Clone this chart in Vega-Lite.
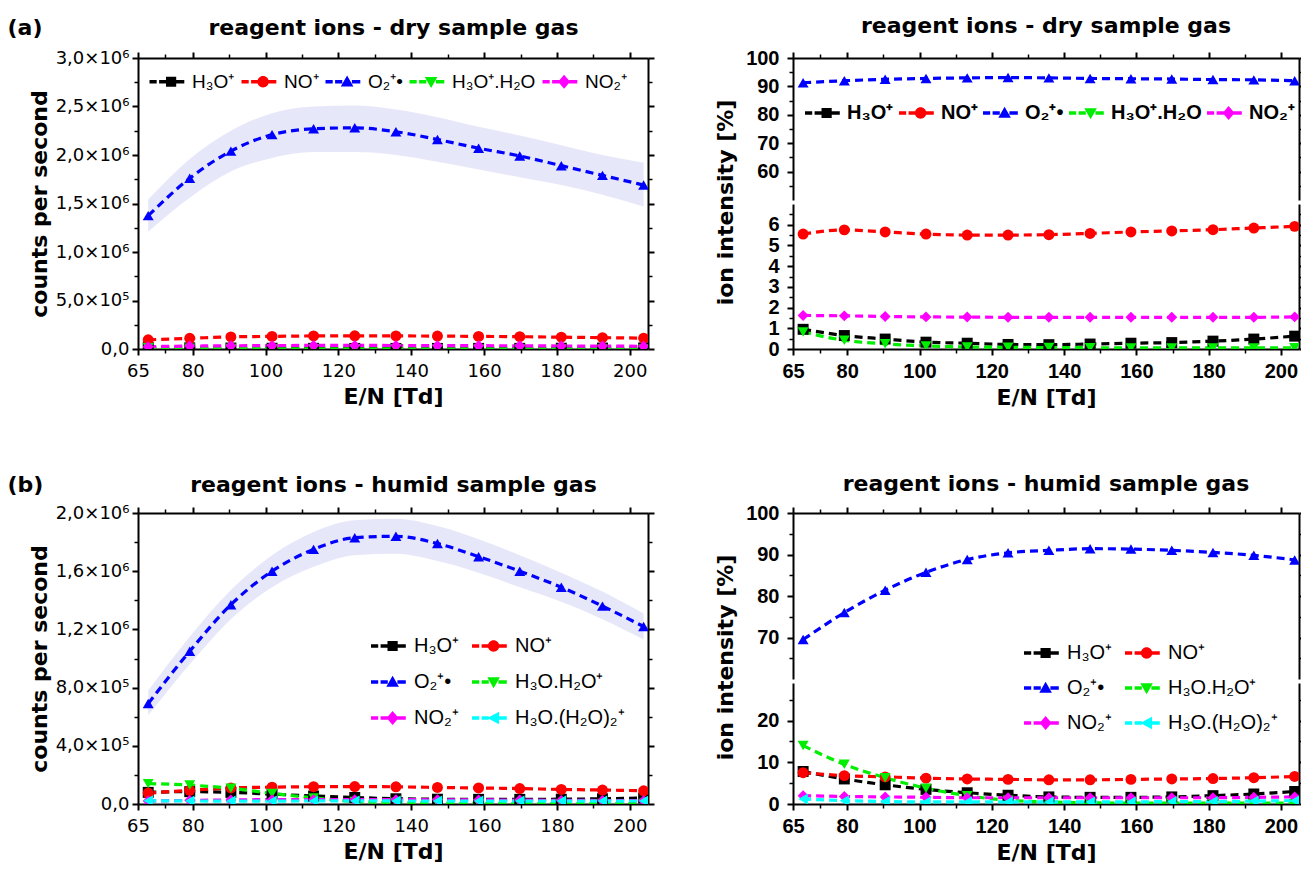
{
"$schema": "https://vega.github.io/schema/vega-lite/v6.json",
"autosize": {"type": "none"},
"padding": {"left": 138, "top": 58, "right": 1163, "bottom": 818},
"background": "white",
"params": [
 {"name": "labD", "value": {"h3o": "H₃O⁺", "no": "NO⁺", "o2": "O₂⁺•", "hyd": "H₃O⁺.H₂O", "no2": "NO₂⁺"}},
 {"name": "labH", "value": {"h3o": "H₃O⁺", "no": "NO⁺", "o2": "O₂⁺•", "hyd": "H₃O.H₂O⁺", "no2": "NO₂⁺", "hyd2": "H₃O.(H₂O)₂⁺"}}
],
"datasets": {
 "db": [
  {"EN": 67.8, "lo": 1210000, "hi": 1540000}, {"EN": 79.2, "lo": 1560000, "hi": 1960000}, {"EN": 90.5, "lo": 1830000, "hi": 2250000},
  {"EN": 101.8, "lo": 1970000, "hi": 2430000}, {"EN": 113.2, "lo": 2030000, "hi": 2500000}, {"EN": 124.5, "lo": 2030000, "hi": 2510000},
  {"EN": 135.8, "lo": 2000000, "hi": 2470000}, {"EN": 147.2, "lo": 1930000, "hi": 2390000}, {"EN": 158.5, "lo": 1850000, "hi": 2290000},
  {"EN": 169.8, "lo": 1770000, "hi": 2200000}, {"EN": 181.2, "lo": 1690000, "hi": 2100000}, {"EN": 192.5, "lo": 1590000, "hi": 2000000},
  {"EN": 203.8, "lo": 1470000, "hi": 1920000}],
 "hb": [
  {"EN": 67.8, "lo": 610000, "hi": 780000}, {"EN": 79.2, "lo": 960000, "hi": 1150000}, {"EN": 90.5, "lo": 1270000, "hi": 1470000},
  {"EN": 101.8, "lo": 1490000, "hi": 1710000}, {"EN": 113.2, "lo": 1630000, "hi": 1870000}, {"EN": 124.5, "lo": 1710000, "hi": 1950000},
  {"EN": 135.8, "lo": 1720000, "hi": 1960000}, {"EN": 147.2, "lo": 1670000, "hi": 1910000}, {"EN": 158.5, "lo": 1590000, "hi": 1820000},
  {"EN": 169.8, "lo": 1490000, "hi": 1710000}, {"EN": 181.2, "lo": 1390000, "hi": 1590000}, {"EN": 192.5, "lo": 1270000, "hi": 1460000},
  {"EN": 203.8, "lo": 1130000, "hi": 1310000}],
 "dc": [
  {"EN": 67.8, "ion": "h3o", "v": 15000}, {"EN": 79.2, "ion": "h3o", "v": 12000}, {"EN": 90.5, "ion": "h3o", "v": 10000}, {"EN": 101.8, "ion": "h3o", "v": 8000}, {"EN": 113.2, "ion": "h3o", "v": 7000}, {"EN": 124.5, "ion": "h3o", "v": 6000}, {"EN": 135.8, "ion": "h3o", "v": 6000}, {"EN": 147.2, "ion": "h3o", "v": 6000}, {"EN": 158.5, "ion": "h3o", "v": 6500}, {"EN": 169.8, "ion": "h3o", "v": 7000}, {"EN": 181.2, "ion": "h3o", "v": 8000}, {"EN": 192.5, "ion": "h3o", "v": 9500}, {"EN": 203.8, "ion": "h3o", "v": 11000},
  {"EN": 67.8, "ion": "no", "v": 95000}, {"EN": 79.2, "ion": "no", "v": 110000}, {"EN": 90.5, "ion": "no", "v": 125000}, {"EN": 101.8, "ion": "no", "v": 130000}, {"EN": 113.2, "ion": "no", "v": 135000}, {"EN": 124.5, "ion": "no", "v": 136000}, {"EN": 135.8, "ion": "no", "v": 135000}, {"EN": 147.2, "ion": "no", "v": 133000}, {"EN": 158.5, "ion": "no", "v": 130000}, {"EN": 169.8, "ion": "no", "v": 127000}, {"EN": 181.2, "ion": "no", "v": 122000}, {"EN": 192.5, "ion": "no", "v": 117000}, {"EN": 203.8, "ion": "no", "v": 112000},
  {"EN": 67.8, "ion": "o2", "v": 1375000}, {"EN": 79.2, "ion": "o2", "v": 1760000}, {"EN": 90.5, "ion": "o2", "v": 2040000}, {"EN": 101.8, "ion": "o2", "v": 2210000}, {"EN": 113.2, "ion": "o2", "v": 2270000}, {"EN": 124.5, "ion": "o2", "v": 2280000}, {"EN": 135.8, "ion": "o2", "v": 2240000}, {"EN": 147.2, "ion": "o2", "v": 2160000}, {"EN": 158.5, "ion": "o2", "v": 2070000}, {"EN": 169.8, "ion": "o2", "v": 1990000}, {"EN": 181.2, "ion": "o2", "v": 1890000}, {"EN": 192.5, "ion": "o2", "v": 1790000}, {"EN": 203.8, "ion": "o2", "v": 1690000},
  {"EN": 67.8, "ion": "hyd", "v": 12000}, {"EN": 79.2, "ion": "hyd", "v": 8000}, {"EN": 90.5, "ion": "hyd", "v": 5000}, {"EN": 101.8, "ion": "hyd", "v": 3000}, {"EN": 113.2, "ion": "hyd", "v": 2000}, {"EN": 124.5, "ion": "hyd", "v": 2000}, {"EN": 135.8, "ion": "hyd", "v": 1500}, {"EN": 147.2, "ion": "hyd", "v": 1300}, {"EN": 158.5, "ion": "hyd", "v": 1100}, {"EN": 169.8, "ion": "hyd", "v": 1000}, {"EN": 181.2, "ion": "hyd", "v": 900}, {"EN": 192.5, "ion": "hyd", "v": 800}, {"EN": 203.8, "ion": "hyd", "v": 900},
  {"EN": 67.8, "ion": "no2", "v": 24000}, {"EN": 79.2, "ion": "no2", "v": 30000}, {"EN": 90.5, "ion": "no2", "v": 33000}, {"EN": 101.8, "ion": "no2", "v": 35000}, {"EN": 113.2, "ion": "no2", "v": 37000}, {"EN": 124.5, "ion": "no2", "v": 37000}, {"EN": 135.8, "ion": "no2", "v": 36000}, {"EN": 147.2, "ion": "no2", "v": 35000}, {"EN": 158.5, "ion": "no2", "v": 34000}, {"EN": 169.8, "ion": "no2", "v": 33000}, {"EN": 181.2, "ion": "no2", "v": 31000}, {"EN": 192.5, "ion": "no2", "v": 30000}, {"EN": 203.8, "ion": "no2", "v": 28000}],
 "dp": [
  {"EN": 67.8, "ion": "h3o", "v": 0.95}, {"EN": 79.2, "ion": "h3o", "v": 0.65}, {"EN": 90.5, "ion": "h3o", "v": 0.48}, {"EN": 101.8, "ion": "h3o", "v": 0.33}, {"EN": 113.2, "ion": "h3o", "v": 0.28}, {"EN": 124.5, "ion": "h3o", "v": 0.22}, {"EN": 135.8, "ion": "h3o", "v": 0.21}, {"EN": 147.2, "ion": "h3o", "v": 0.24}, {"EN": 158.5, "ion": "h3o", "v": 0.28}, {"EN": 169.8, "ion": "h3o", "v": 0.31}, {"EN": 181.2, "ion": "h3o", "v": 0.38}, {"EN": 192.5, "ion": "h3o", "v": 0.48}, {"EN": 203.8, "ion": "h3o", "v": 0.62},
  {"EN": 67.8, "ion": "no", "v": 5.55}, {"EN": 79.2, "ion": "no", "v": 5.75}, {"EN": 90.5, "ion": "no", "v": 5.65}, {"EN": 101.8, "ion": "no", "v": 5.55}, {"EN": 113.2, "ion": "no", "v": 5.5}, {"EN": 124.5, "ion": "no", "v": 5.5}, {"EN": 135.8, "ion": "no", "v": 5.52}, {"EN": 147.2, "ion": "no", "v": 5.58}, {"EN": 158.5, "ion": "no", "v": 5.65}, {"EN": 169.8, "ion": "no", "v": 5.7}, {"EN": 181.2, "ion": "no", "v": 5.76}, {"EN": 192.5, "ion": "no", "v": 5.84}, {"EN": 203.8, "ion": "no", "v": 5.92},
  {"EN": 67.8, "ion": "o2", "v": 91.3}, {"EN": 79.2, "ion": "o2", "v": 92.0}, {"EN": 90.5, "ion": "o2", "v": 92.5}, {"EN": 101.8, "ion": "o2", "v": 92.8}, {"EN": 113.2, "ion": "o2", "v": 93.0}, {"EN": 124.5, "ion": "o2", "v": 93.1}, {"EN": 135.8, "ion": "o2", "v": 93.0}, {"EN": 147.2, "ion": "o2", "v": 92.8}, {"EN": 158.5, "ion": "o2", "v": 92.7}, {"EN": 169.8, "ion": "o2", "v": 92.6}, {"EN": 181.2, "ion": "o2", "v": 92.4}, {"EN": 192.5, "ion": "o2", "v": 92.3}, {"EN": 203.8, "ion": "o2", "v": 92.0},
  {"EN": 67.8, "ion": "hyd", "v": 0.82}, {"EN": 79.2, "ion": "hyd", "v": 0.42}, {"EN": 90.5, "ion": "hyd", "v": 0.25}, {"EN": 101.8, "ion": "hyd", "v": 0.15}, {"EN": 113.2, "ion": "hyd", "v": 0.1}, {"EN": 124.5, "ion": "hyd", "v": 0.08}, {"EN": 135.8, "ion": "hyd", "v": 0.07}, {"EN": 147.2, "ion": "hyd", "v": 0.06}, {"EN": 158.5, "ion": "hyd", "v": 0.05}, {"EN": 169.8, "ion": "hyd", "v": 0.05}, {"EN": 181.2, "ion": "hyd", "v": 0.05}, {"EN": 192.5, "ion": "hyd", "v": 0.05}, {"EN": 203.8, "ion": "hyd", "v": 0.06},
  {"EN": 67.8, "ion": "no2", "v": 1.62}, {"EN": 79.2, "ion": "no2", "v": 1.6}, {"EN": 90.5, "ion": "no2", "v": 1.57}, {"EN": 101.8, "ion": "no2", "v": 1.55}, {"EN": 113.2, "ion": "no2", "v": 1.54}, {"EN": 124.5, "ion": "no2", "v": 1.53}, {"EN": 135.8, "ion": "no2", "v": 1.53}, {"EN": 147.2, "ion": "no2", "v": 1.53}, {"EN": 158.5, "ion": "no2", "v": 1.53}, {"EN": 169.8, "ion": "no2", "v": 1.53}, {"EN": 181.2, "ion": "no2", "v": 1.53}, {"EN": 192.5, "ion": "no2", "v": 1.53}, {"EN": 203.8, "ion": "no2", "v": 1.55}],
 "hc": [
  {"EN": 67.8, "ion": "h3o", "v": 80000}, {"EN": 79.2, "ion": "h3o", "v": 85000}, {"EN": 90.5, "ion": "h3o", "v": 80000}, {"EN": 101.8, "ion": "h3o", "v": 68000}, {"EN": 113.2, "ion": "h3o", "v": 55000}, {"EN": 124.5, "ion": "h3o", "v": 45000}, {"EN": 135.8, "ion": "h3o", "v": 36000}, {"EN": 147.2, "ion": "h3o", "v": 33000}, {"EN": 158.5, "ion": "h3o", "v": 32000}, {"EN": 169.8, "ion": "h3o", "v": 32000}, {"EN": 181.2, "ion": "h3o", "v": 33000}, {"EN": 192.5, "ion": "h3o", "v": 36000}, {"EN": 203.8, "ion": "h3o", "v": 41000},
  {"EN": 67.8, "ion": "no", "v": 75000}, {"EN": 79.2, "ion": "no", "v": 94000}, {"EN": 90.5, "ion": "no", "v": 110000}, {"EN": 101.8, "ion": "no", "v": 116000}, {"EN": 113.2, "ion": "no", "v": 119000}, {"EN": 124.5, "ion": "no", "v": 120000}, {"EN": 135.8, "ion": "no", "v": 118000}, {"EN": 147.2, "ion": "no", "v": 114000}, {"EN": 158.5, "ion": "no", "v": 110000}, {"EN": 169.8, "ion": "no", "v": 106000}, {"EN": 181.2, "ion": "no", "v": 100000}, {"EN": 192.5, "ion": "no", "v": 96000}, {"EN": 203.8, "ion": "no", "v": 91000},
  {"EN": 67.8, "ion": "o2", "v": 690000}, {"EN": 79.2, "ion": "o2", "v": 1050000}, {"EN": 90.5, "ion": "o2", "v": 1370000}, {"EN": 101.8, "ion": "o2", "v": 1600000}, {"EN": 113.2, "ion": "o2", "v": 1750000}, {"EN": 124.5, "ion": "o2", "v": 1830000}, {"EN": 135.8, "ion": "o2", "v": 1840000}, {"EN": 147.2, "ion": "o2", "v": 1790000}, {"EN": 158.5, "ion": "o2", "v": 1700000}, {"EN": 169.8, "ion": "o2", "v": 1600000}, {"EN": 181.2, "ion": "o2", "v": 1490000}, {"EN": 192.5, "ion": "o2", "v": 1360000}, {"EN": 203.8, "ion": "o2", "v": 1220000},
  {"EN": 67.8, "ion": "hyd", "v": 140000}, {"EN": 79.2, "ion": "hyd", "v": 130000}, {"EN": 90.5, "ion": "hyd", "v": 108000}, {"EN": 101.8, "ion": "hyd", "v": 73000}, {"EN": 113.2, "ion": "hyd", "v": 42000}, {"EN": 124.5, "ion": "hyd", "v": 18000}, {"EN": 135.8, "ion": "hyd", "v": 10000}, {"EN": 147.2, "ion": "hyd", "v": 6000}, {"EN": 158.5, "ion": "hyd", "v": 4000}, {"EN": 169.8, "ion": "hyd", "v": 3500}, {"EN": 181.2, "ion": "hyd", "v": 3300}, {"EN": 192.5, "ion": "hyd", "v": 3000}, {"EN": 203.8, "ion": "hyd", "v": 2800},
  {"EN": 67.8, "ion": "no2", "v": 20000}, {"EN": 79.2, "ion": "no2", "v": 25000}, {"EN": 90.5, "ion": "no2", "v": 28000}, {"EN": 101.8, "ion": "no2", "v": 30000}, {"EN": 113.2, "ion": "no2", "v": 30000}, {"EN": 124.5, "ion": "no2", "v": 30000}, {"EN": 135.8, "ion": "no2", "v": 30000}, {"EN": 147.2, "ion": "no2", "v": 29000}, {"EN": 158.5, "ion": "no2", "v": 28000}, {"EN": 169.8, "ion": "no2", "v": 27000}, {"EN": 181.2, "ion": "no2", "v": 25000}, {"EN": 192.5, "ion": "no2", "v": 24000}, {"EN": 203.8, "ion": "no2", "v": 23000},
  {"EN": 67.8, "ion": "hyd2", "v": 22000}, {"EN": 79.2, "ion": "hyd2", "v": 21000}, {"EN": 90.5, "ion": "hyd2", "v": 20000}, {"EN": 101.8, "ion": "hyd2", "v": 20000}, {"EN": 113.2, "ion": "hyd2", "v": 21000}, {"EN": 124.5, "ion": "hyd2", "v": 21000}, {"EN": 135.8, "ion": "hyd2", "v": 21000}, {"EN": 147.2, "ion": "hyd2", "v": 20000}, {"EN": 158.5, "ion": "hyd2", "v": 20000}, {"EN": 169.8, "ion": "hyd2", "v": 20000}, {"EN": 181.2, "ion": "hyd2", "v": 20000}, {"EN": 192.5, "ion": "hyd2", "v": 20000}, {"EN": 203.8, "ion": "hyd2", "v": 21000}],
 "hp": [
  {"EN": 67.8, "ion": "h3o", "v": 7.8}, {"EN": 79.2, "ion": "h3o", "v": 6.0}, {"EN": 90.5, "ion": "h3o", "v": 4.6}, {"EN": 101.8, "ion": "h3o", "v": 3.5}, {"EN": 113.2, "ion": "h3o", "v": 2.7}, {"EN": 124.5, "ion": "h3o", "v": 2.1}, {"EN": 135.8, "ion": "h3o", "v": 1.7}, {"EN": 147.2, "ion": "h3o", "v": 1.6}, {"EN": 158.5, "ion": "h3o", "v": 1.6}, {"EN": 169.8, "ion": "h3o", "v": 1.7}, {"EN": 181.2, "ion": "h3o", "v": 2.0}, {"EN": 192.5, "ion": "h3o", "v": 2.4}, {"EN": 203.8, "ion": "h3o", "v": 3.0},
  {"EN": 67.8, "ion": "no", "v": 7.5}, {"EN": 79.2, "ion": "no", "v": 6.8}, {"EN": 90.5, "ion": "no", "v": 6.5}, {"EN": 101.8, "ion": "no", "v": 6.2}, {"EN": 113.2, "ion": "no", "v": 6.0}, {"EN": 124.5, "ion": "no", "v": 5.9}, {"EN": 135.8, "ion": "no", "v": 5.8}, {"EN": 147.2, "ion": "no", "v": 5.8}, {"EN": 158.5, "ion": "no", "v": 5.9}, {"EN": 169.8, "ion": "no", "v": 6.0}, {"EN": 181.2, "ion": "no", "v": 6.1}, {"EN": 192.5, "ion": "no", "v": 6.3}, {"EN": 203.8, "ion": "no", "v": 6.6},
  {"EN": 67.8, "ion": "o2", "v": 69.5}, {"EN": 79.2, "ion": "o2", "v": 76.0}, {"EN": 90.5, "ion": "o2", "v": 81.4}, {"EN": 101.8, "ion": "o2", "v": 85.7}, {"EN": 113.2, "ion": "o2", "v": 88.8}, {"EN": 124.5, "ion": "o2", "v": 90.4}, {"EN": 135.8, "ion": "o2", "v": 91.0}, {"EN": 147.2, "ion": "o2", "v": 91.4}, {"EN": 158.5, "ion": "o2", "v": 91.3}, {"EN": 169.8, "ion": "o2", "v": 91.0}, {"EN": 181.2, "ion": "o2", "v": 90.5}, {"EN": 192.5, "ion": "o2", "v": 89.8}, {"EN": 203.8, "ion": "o2", "v": 88.7},
  {"EN": 67.8, "ion": "hyd", "v": 14.0}, {"EN": 79.2, "ion": "hyd", "v": 9.5}, {"EN": 90.5, "ion": "hyd", "v": 6.3}, {"EN": 101.8, "ion": "hyd", "v": 3.8}, {"EN": 113.2, "ion": "hyd", "v": 2.0}, {"EN": 124.5, "ion": "hyd", "v": 0.9}, {"EN": 135.8, "ion": "hyd", "v": 0.5}, {"EN": 147.2, "ion": "hyd", "v": 0.3}, {"EN": 158.5, "ion": "hyd", "v": 0.2}, {"EN": 169.8, "ion": "hyd", "v": 0.2}, {"EN": 181.2, "ion": "hyd", "v": 0.2}, {"EN": 192.5, "ion": "hyd", "v": 0.2}, {"EN": 203.8, "ion": "hyd", "v": 0.2},
  {"EN": 67.8, "ion": "no2", "v": 2.0}, {"EN": 79.2, "ion": "no2", "v": 1.8}, {"EN": 90.5, "ion": "no2", "v": 1.7}, {"EN": 101.8, "ion": "no2", "v": 1.6}, {"EN": 113.2, "ion": "no2", "v": 1.5}, {"EN": 124.5, "ion": "no2", "v": 1.5}, {"EN": 135.8, "ion": "no2", "v": 1.5}, {"EN": 147.2, "ion": "no2", "v": 1.5}, {"EN": 158.5, "ion": "no2", "v": 1.5}, {"EN": 169.8, "ion": "no2", "v": 1.5}, {"EN": 181.2, "ion": "no2", "v": 1.5}, {"EN": 192.5, "ion": "no2", "v": 1.6}, {"EN": 203.8, "ion": "no2", "v": 1.7},
  {"EN": 67.8, "ion": "hyd2", "v": 1.2}, {"EN": 79.2, "ion": "hyd2", "v": 0.8}, {"EN": 90.5, "ion": "hyd2", "v": 0.6}, {"EN": 101.8, "ion": "hyd2", "v": 0.5}, {"EN": 113.2, "ion": "hyd2", "v": 0.5}, {"EN": 124.5, "ion": "hyd2", "v": 0.5}, {"EN": 135.8, "ion": "hyd2", "v": 0.5}, {"EN": 147.2, "ion": "hyd2", "v": 0.5}, {"EN": 158.5, "ion": "hyd2", "v": 0.5}, {"EN": 169.8, "ion": "hyd2", "v": 0.6}, {"EN": 181.2, "ion": "hyd2", "v": 0.6}, {"EN": 192.5, "ion": "hyd2", "v": 0.7}, {"EN": 203.8, "ion": "hyd2", "v": 0.8}]
},
"config": {
 "view": {"stroke": null},
 "axis": {"grid": false, "domainColor": "black", "tickColor": "black", "labelColor": "black", "titleColor": "black", "domainWidth": 2, "tickWidth": 2, "labelOverlap": false, "labelFlush": false},
 "title": {"color": "black"},
 "legend": {"labelColor": "black"}
},
"bounds": "flush",
"columns": 2,
"spacing": {"row": 164, "column": 145},
"resolve": {"scale": {"color": "independent", "shape": "independent", "fill": "independent"}},
"concat": [
 {
  "width": 510, "height": 291,
  "resolve": {"axis": {"x": "independent", "y": "independent"}, "scale": {"shape": "independent", "fill": "independent"}},
  "layer": [
   {"data": {"name": "db"}, "mark": {"type": "area", "color": "#e4e4fa", "opacity": 0.9, "interpolate": "monotone", "clip": true},
    "encoding": {
     "x": {"field": "EN", "type": "quantitative", "scale": {"domain": [65, 205], "nice": false, "zero": false},
           "axis": {"orient": "bottom", "values": [65, 80, 100, 120, 140, 160, 180, 200], "title": "E/N [Td]", "labelFont": "DejaVu Sans", "labelFontSize": 18, "titleFont": "DejaVu Sans", "titleFontSize": 22, "titleFontWeight": "bold", "tickSize": 6, "labelPadding": 7, "titlePadding": 6}},
     "y": {"field": "lo", "type": "quantitative", "scale": {"domain": [0, 3000000], "nice": false, "zero": false},
           "axis": {"orient": "left", "values": [0, 500000, 1000000, 1500000, 2000000, 2500000, 3000000], "title": "counts per second", "labelExpr": "datum.value == 0 ? '0,0' : (datum.value < 1000000 ? replace(format(datum.value/100000, '.1f'), '.', ',') + '×10⁵' : replace(format(datum.value/1000000, '.1f'), '.', ',') + '×10⁶')", "labelFont": "DejaVu Sans", "labelFontSize": 18, "titleFont": "DejaVu Sans", "titleFontSize": 22, "titleFontWeight": "bold", "tickSize": 6, "labelPadding": 3, "titlePadding": 4}},
     "y2": {"field": "hi"}}},
   {"data": {"name": "dc"}, "mark": {"type": "line", "strokeDash": [8, 5], "strokeWidth": 3.2, "interpolate": "monotone", "clip": true},
    "encoding": {
     "x": {"field": "EN", "type": "quantitative", "axis": {"orient": "top", "values": [65, 80, 100, 120, 140, 160, 180, 200], "labels": false, "tickSize": 6, "title": "reagent ions - dry sample gas", "titleX": 255, "titleY": -31, "titleAngle": 0, "titleAlign": "center", "titleBaseline": "middle", "titleFont": "DejaVu Sans", "titleFontSize": 22, "titleFontWeight": "bold"}},
     "y": {"field": "v", "type": "quantitative", "axis": {"orient": "right", "values": [0, 500000, 1000000, 1500000, 2000000, 2500000, 3000000], "labels": false, "title": null, "tickSize": 6}},
     "color": {"field": "ion", "type": "nominal", "scale": {"domain": ["h3o", "no", "o2", "hyd", "no2"], "range": ["#000000", "#ff0000", "#0000ff", "#00ee00", "#ff00ff"]}, "legend": null}}},
   {"data": {"name": "dc"}, "mark": {"type": "point", "filled": true, "size": 120, "opacity": 1, "clip": true},
    "encoding": {
     "x": {"field": "EN", "type": "quantitative", "axis": {"orient": "bottom", "values": [72.5, 90, 110, 130, 150, 170, 190], "labels": false, "domain": false, "title": null, "tickSize": 4, "tickWidth": 1.5}},
     "y": {"field": "v", "type": "quantitative", "axis": {"orient": "left", "values": [250000, 750000, 1250000, 1750000, 2250000, 2750000], "labels": false, "domain": false, "title": null, "tickSize": 4, "tickWidth": 1.5}},
     "color": {"field": "ion", "type": "nominal", "scale": {"domain": ["h3o", "no", "o2", "hyd", "no2"], "range": ["#000000", "#ff0000", "#0000ff", "#00ee00", "#ff00ff"]}, "legend": null},
     "shape": {"field": "ion", "type": "nominal", "scale": {"domain": ["h3o", "no", "o2", "hyd", "no2"], "range": ["square", "circle", "triangle-up", "triangle-down", "diamond"]}, "legend": null}}},
   {"data": {"name": "dc"}, "mark": {"type": "point", "filled": true, "opacity": 0, "size": 144},
    "encoding": {
     "x": {"field": "EN", "type": "quantitative", "axis": {"orient": "top", "values": [72.5, 90, 110, 130, 150, 170, 190], "labels": false, "domain": false, "tickSize": 4, "tickWidth": 1.5, "title": "(a)", "titleX": -131, "titleY": -31, "titleAngle": 0, "titleAlign": "left", "titleBaseline": "middle", "titleFont": "DejaVu Sans", "titleFontSize": 22, "titleFontWeight": "bold"}},
     "y": {"field": "v", "type": "quantitative", "axis": {"orient": "right", "values": [250000, 750000, 1250000, 1750000, 2250000, 2750000], "labels": false, "domain": false, "title": null, "tickSize": 4, "tickWidth": 1.5}},
     "fill": {"field": "ion", "type": "nominal", "scale": {"domain": ["h3o", "no", "o2", "hyd", "no2"], "range": ["#000000", "#ff0000", "#0000ff", "#00ee00", "#ff00ff"]},
              "legend": {"orient": "none", "legendX": 8, "legendY": 14, "direction": "horizontal", "columns": 5, "title": null, "labelExpr": "labD[datum.value]", "labelFont": "Liberation Sans", "labelFontSize": 19, "symbolSize": 144, "symbolOpacity": 1, "labelOffset": 27, "columnPadding": 3, "padding": 0}},
     "shape": {"field": "ion", "type": "nominal",
               "scale": {"domain": ["h3o", "no", "o2", "hyd", "no2"], "range": [
                 "M-1,-0.28H0.2V0.28H-1Z M0.6,-0.28H1.8V0.28H0.6Z M3.4,-0.28H4.8V0.28H3.4Z M1.75,-0.85H3.45V0.85H1.75Z",
                 "M-1,-0.28H0.2V0.28H-1Z M0.6,-0.28H1.8V0.28H0.6Z M3.4,-0.28H4.8V0.28H3.4Z M1.65,0A0.95,0.95 0 1,1 3.55,0A0.95,0.95 0 1,1 1.65,0Z",
                 "M-1,-0.28H0.2V0.28H-1Z M0.6,-0.28H1.8V0.28H0.6Z M3.4,-0.28H4.8V0.28H3.4Z M2.6,-1.05L3.65,0.8H1.55Z",
                 "M-1,-0.28H0.2V0.28H-1Z M0.6,-0.28H1.8V0.28H0.6Z M3.4,-0.28H4.8V0.28H3.4Z M2.6,1.05L1.55,-0.8H3.65Z",
                 "M-1,-0.28H0.2V0.28H-1Z M0.6,-0.28H1.8V0.28H0.6Z M3.4,-0.28H4.8V0.28H3.4Z M2.6,-1.15L3.6,0L2.6,1.15L1.6,0Z"]},
               "legend": {"orient": "none", "legendX": 8, "legendY": 14, "direction": "horizontal", "columns": 5, "title": null, "labelExpr": "labD[datum.value]", "labelFont": "Liberation Sans", "labelFontSize": 19, "symbolSize": 144, "symbolOpacity": 1, "labelOffset": 27, "columnPadding": 3, "padding": 0}}}}
  ]
 },
 {
  "bounds": "flush",
  "spacing": 4,
  "resolve": {"scale": {"color": "independent", "shape": "independent", "fill": "independent"}},
  "vconcat": [
   {
    "width": 506, "height": 142,
    "title": {"text": "reagent ions - dry sample gas", "font": "DejaVu Sans", "fontSize": 22, "fontWeight": "bold", "offset": 10},
    "resolve": {"axis": {"x": "independent", "y": "independent"}, "scale": {"shape": "independent", "fill": "independent"}},
    "layer": [
     {"data": {"name": "dp"}, "mark": {"type": "line", "strokeDash": [8, 5], "strokeWidth": 3.2, "interpolate": "monotone", "clip": true},
      "encoding": {
       "x": {"field": "EN", "type": "quantitative", "scale": {"domain": [65, 205], "nice": false, "zero": false}, "axis": {"orient": "top", "values": [65, 80, 100, 120, 140, 160, 180, 200], "labels": false, "title": null, "tickSize": 6}},
       "y": {"field": "v", "type": "quantitative", "scale": {"domain": [50, 100], "nice": false, "zero": false},
             "axis": {"orient": "left", "values": [60, 70, 80, 90, 100], "title": "ion intensity [%]", "titleY": 144, "labelFont": "Liberation Sans", "labelFontWeight": "bold", "labelFontSize": 20, "titleFont": "DejaVu Sans", "titleFontSize": 22, "titleFontWeight": "bold", "tickSize": 6, "labelPadding": 8, "titlePadding": 8}},
       "color": {"field": "ion", "type": "nominal", "scale": {"domain": ["h3o", "no", "o2", "hyd", "no2"], "range": ["#000000", "#ff0000", "#0000ff", "#00ee00", "#ff00ff"]}, "legend": null}}},
     {"data": {"name": "dp"}, "mark": {"type": "point", "filled": true, "size": 120, "opacity": 1, "clip": true},
      "encoding": {
       "x": {"field": "EN", "type": "quantitative", "axis": {"orient": "top", "values": [72.5, 90, 110, 130, 150, 170, 190], "labels": false, "domain": false, "title": null, "tickSize": 4, "tickWidth": 1.5}},
       "y": {"field": "v", "type": "quantitative", "axis": {"orient": "left", "values": [55, 65, 75, 85, 95], "labels": false, "domain": false, "title": null, "tickSize": 4, "tickWidth": 1.5}},
       "color": {"field": "ion", "type": "nominal", "scale": {"domain": ["h3o", "no", "o2", "hyd", "no2"], "range": ["#000000", "#ff0000", "#0000ff", "#00ee00", "#ff00ff"]}, "legend": null},
       "shape": {"field": "ion", "type": "nominal", "scale": {"domain": ["h3o", "no", "o2", "hyd", "no2"], "range": ["square", "circle", "triangle-up", "triangle-down", "diamond"]}, "legend": null}}},
     {"data": {"name": "dp"}, "mark": {"type": "point", "filled": true, "opacity": 0, "size": 144},
      "encoding": {
       "x": {"field": "EN", "type": "quantitative", "axis": null},
       "y": {"field": "v", "type": "quantitative", "axis": {"orient": "right", "values": [60, 70, 80, 90, 100], "labels": false, "title": null, "tickSize": 6}},
       "fill": {"field": "ion", "type": "nominal", "scale": {"domain": ["h3o", "no", "o2", "hyd", "no2"], "range": ["#000000", "#ff0000", "#0000ff", "#00ee00", "#ff00ff"]},
                "legend": {"orient": "none", "legendX": 8, "legendY": 45, "direction": "horizontal", "columns": 5, "title": null, "labelExpr": "labD[datum.value]", "labelFont": "Liberation Sans", "labelFontWeight": "bold", "labelFontSize": 20, "symbolSize": 144, "symbolOpacity": 1, "labelOffset": 26, "columnPadding": 1, "padding": 0}},
       "shape": {"field": "ion", "type": "nominal",
                 "scale": {"domain": ["h3o", "no", "o2", "hyd", "no2"], "range": [
                   "M-1,-0.28H0.2V0.28H-1Z M0.6,-0.28H1.8V0.28H0.6Z M3.4,-0.28H4.8V0.28H3.4Z M1.75,-0.85H3.45V0.85H1.75Z",
                   "M-1,-0.28H0.2V0.28H-1Z M0.6,-0.28H1.8V0.28H0.6Z M3.4,-0.28H4.8V0.28H3.4Z M1.65,0A0.95,0.95 0 1,1 3.55,0A0.95,0.95 0 1,1 1.65,0Z",
                   "M-1,-0.28H0.2V0.28H-1Z M0.6,-0.28H1.8V0.28H0.6Z M3.4,-0.28H4.8V0.28H3.4Z M2.6,-1.05L3.65,0.8H1.55Z",
                   "M-1,-0.28H0.2V0.28H-1Z M0.6,-0.28H1.8V0.28H0.6Z M3.4,-0.28H4.8V0.28H3.4Z M2.6,1.05L1.55,-0.8H3.65Z",
                   "M-1,-0.28H0.2V0.28H-1Z M0.6,-0.28H1.8V0.28H0.6Z M3.4,-0.28H4.8V0.28H3.4Z M2.6,-1.15L3.6,0L2.6,1.15L1.6,0Z"]},
                 "legend": {"orient": "none", "legendX": 8, "legendY": 45, "direction": "horizontal", "columns": 5, "title": null, "labelExpr": "labD[datum.value]", "labelFont": "Liberation Sans", "labelFontWeight": "bold", "labelFontSize": 20, "symbolSize": 144, "symbolOpacity": 1, "labelOffset": 26, "columnPadding": 1, "padding": 0}}}},
     {"data": {"name": "dp"}, "mark": {"type": "point", "opacity": 0},
      "encoding": {
       "x": {"field": "EN", "type": "quantitative", "axis": null},
       "y": {"field": "v", "type": "quantitative", "axis": {"orient": "right", "values": [55, 65, 75, 85, 95], "labels": false, "domain": false, "title": null, "tickSize": 4, "tickWidth": 1.5}}}}
    ]
   },
   {
    "width": 506, "height": 145,
    "resolve": {"axis": {"x": "independent", "y": "independent"}},
    "layer": [
     {"data": {"name": "dp"}, "mark": {"type": "line", "strokeDash": [8, 5], "strokeWidth": 3.2, "interpolate": "monotone", "clip": true},
      "encoding": {
       "x": {"field": "EN", "type": "quantitative", "scale": {"domain": [65, 205], "nice": false, "zero": false},
             "axis": {"orient": "bottom", "values": [65, 80, 100, 120, 140, 160, 180, 200], "title": "E/N [Td]", "labelFont": "Liberation Sans", "labelFontWeight": "bold", "labelFontSize": 20, "titleFont": "DejaVu Sans", "titleFontSize": 22, "titleFontWeight": "bold", "tickSize": 6, "labelPadding": 6, "titlePadding": 6}},
       "y": {"field": "v", "type": "quantitative", "scale": {"domain": [0, 7], "nice": false, "zero": false},
             "axis": {"orient": "left", "values": [0, 1, 2, 3, 4, 5, 6], "title": null, "labelFont": "Liberation Sans", "labelFontWeight": "bold", "labelFontSize": 20, "tickSize": 6, "labelPadding": 8}},
       "color": {"field": "ion", "type": "nominal", "scale": {"domain": ["h3o", "no", "o2", "hyd", "no2"], "range": ["#000000", "#ff0000", "#0000ff", "#00ee00", "#ff00ff"]}, "legend": null}}},
     {"data": {"name": "dp"}, "mark": {"type": "point", "filled": true, "size": 120, "opacity": 1, "clip": true},
      "encoding": {
       "x": {"field": "EN", "type": "quantitative", "axis": {"orient": "bottom", "values": [72.5, 90, 110, 130, 150, 170, 190], "labels": false, "domain": false, "title": null, "tickSize": 4, "tickWidth": 1.5}},
       "y": {"field": "v", "type": "quantitative", "axis": {"orient": "left", "values": [0.5, 1.5, 2.5, 3.5, 4.5, 5.5, 6.5], "labels": false, "domain": false, "title": null, "tickSize": 4, "tickWidth": 1.5}},
       "color": {"field": "ion", "type": "nominal", "scale": {"domain": ["h3o", "no", "o2", "hyd", "no2"], "range": ["#000000", "#ff0000", "#0000ff", "#00ee00", "#ff00ff"]}, "legend": null},
       "shape": {"field": "ion", "type": "nominal", "scale": {"domain": ["h3o", "no", "o2", "hyd", "no2"], "range": ["square", "circle", "triangle-up", "triangle-down", "diamond"]}, "legend": null}}},
     {"data": {"name": "dp"}, "mark": {"type": "point", "opacity": 0},
      "encoding": {
       "x": {"field": "EN", "type": "quantitative", "axis": null},
       "y": {"field": "v", "type": "quantitative", "axis": {"orient": "right", "values": [0, 1, 2, 3, 4, 5, 6], "labels": false, "title": null, "tickSize": 6}}}},
     {"data": {"name": "dp"}, "mark": {"type": "point", "opacity": 0},
      "encoding": {
       "x": {"field": "EN", "type": "quantitative", "axis": null},
       "y": {"field": "v", "type": "quantitative", "axis": {"orient": "right", "values": [0.5, 1.5, 2.5, 3.5, 4.5, 5.5, 6.5], "labels": false, "domain": false, "title": null, "tickSize": 4, "tickWidth": 1.5}}}}
    ]
   }
  ]
 },
 {
  "width": 510, "height": 291,
  "resolve": {"axis": {"x": "independent", "y": "independent"}, "scale": {"shape": "independent", "fill": "independent"}},
  "layer": [
   {"data": {"name": "hb"}, "mark": {"type": "area", "color": "#e4e4fa", "opacity": 0.9, "interpolate": "monotone", "clip": true},
    "encoding": {
     "x": {"field": "EN", "type": "quantitative", "scale": {"domain": [65, 205], "nice": false, "zero": false},
           "axis": {"orient": "bottom", "values": [65, 80, 100, 120, 140, 160, 180, 200], "title": "E/N [Td]", "labelFont": "DejaVu Sans", "labelFontSize": 18, "titleFont": "DejaVu Sans", "titleFontSize": 22, "titleFontWeight": "bold", "tickSize": 6, "labelPadding": 7, "titlePadding": 6}},
     "y": {"field": "lo", "type": "quantitative", "scale": {"domain": [0, 2000000], "nice": false, "zero": false},
           "axis": {"orient": "left", "values": [0, 400000, 800000, 1200000, 1600000, 2000000], "title": "counts per second", "labelExpr": "datum.value == 0 ? '0,0' : (datum.value < 1000000 ? replace(format(datum.value/100000, '.1f'), '.', ',') + '×10⁵' : replace(format(datum.value/1000000, '.1f'), '.', ',') + '×10⁶')", "labelFont": "DejaVu Sans", "labelFontSize": 18, "titleFont": "DejaVu Sans", "titleFontSize": 22, "titleFontWeight": "bold", "tickSize": 6, "labelPadding": 3, "titlePadding": 4}},
     "y2": {"field": "hi"}}},
   {"data": {"name": "hc"}, "mark": {"type": "line", "strokeDash": [8, 5], "strokeWidth": 3.2, "interpolate": "monotone", "clip": true},
    "encoding": {
     "x": {"field": "EN", "type": "quantitative", "axis": {"orient": "top", "values": [65, 80, 100, 120, 140, 160, 180, 200], "labels": false, "tickSize": 6, "title": "reagent ions - humid sample gas", "titleX": 255, "titleY": -29, "titleAngle": 0, "titleAlign": "center", "titleBaseline": "middle", "titleFont": "DejaVu Sans", "titleFontSize": 22, "titleFontWeight": "bold"}},
     "y": {"field": "v", "type": "quantitative", "axis": {"orient": "right", "values": [0, 400000, 800000, 1200000, 1600000, 2000000], "labels": false, "title": null, "tickSize": 6}},
     "color": {"field": "ion", "type": "nominal", "scale": {"domain": ["h3o", "no", "o2", "hyd", "no2", "hyd2"], "range": ["#000000", "#ff0000", "#0000ff", "#00ee00", "#ff00ff", "#00ffff"]}, "legend": null}}},
   {"data": {"name": "hc"}, "mark": {"type": "point", "filled": true, "size": 120, "opacity": 1, "clip": true},
    "encoding": {
     "x": {"field": "EN", "type": "quantitative", "axis": {"orient": "bottom", "values": [72.5, 90, 110, 130, 150, 170, 190], "labels": false, "domain": false, "title": null, "tickSize": 4, "tickWidth": 1.5}},
     "y": {"field": "v", "type": "quantitative", "axis": {"orient": "left", "values": [200000, 600000, 1000000, 1400000, 1800000], "labels": false, "domain": false, "title": null, "tickSize": 4, "tickWidth": 1.5}},
     "color": {"field": "ion", "type": "nominal", "scale": {"domain": ["h3o", "no", "o2", "hyd", "no2", "hyd2"], "range": ["#000000", "#ff0000", "#0000ff", "#00ee00", "#ff00ff", "#00ffff"]}, "legend": null},
     "shape": {"field": "ion", "type": "nominal", "scale": {"domain": ["h3o", "no", "o2", "hyd", "no2", "hyd2"], "range": ["square", "circle", "triangle-up", "triangle-down", "diamond", "triangle-left"]}, "legend": null}}},
   {"data": {"name": "hc"}, "mark": {"type": "point", "filled": true, "opacity": 0, "size": 144},
    "encoding": {
     "x": {"field": "EN", "type": "quantitative", "axis": {"orient": "top", "values": [72.5, 90, 110, 130, 150, 170, 190], "labels": false, "domain": false, "tickSize": 4, "tickWidth": 1.5, "title": "(b)", "titleX": -131, "titleY": -29, "titleAngle": 0, "titleAlign": "left", "titleBaseline": "middle", "titleFont": "DejaVu Sans", "titleFontSize": 22, "titleFontWeight": "bold"}},
     "y": {"field": "v", "type": "quantitative", "axis": {"orient": "right", "values": [200000, 600000, 1000000, 1400000, 1800000], "labels": false, "domain": false, "title": null, "tickSize": 4, "tickWidth": 1.5}},
     "fill": {"field": "ion", "type": "nominal", "scale": {"domain": ["h3o", "no", "o2", "hyd", "no2", "hyd2"], "range": ["#000000", "#ff0000", "#0000ff", "#00ee00", "#ff00ff", "#00ffff"]},
              "legend": {"orient": "none", "legendX": 229, "legendY": 123, "direction": "horizontal", "columns": 2, "title": null, "labelExpr": "labH[datum.value]", "labelFont": "Liberation Sans", "labelFontSize": 20, "symbolSize": 144, "symbolOpacity": 1, "labelOffset": 27, "columnPadding": 8, "rowPadding": 16, "padding": 0}},
     "shape": {"field": "ion", "type": "nominal",
               "scale": {"domain": ["h3o", "no", "o2", "hyd", "no2", "hyd2"], "range": [
                 "M-1,-0.28H0.2V0.28H-1Z M0.6,-0.28H1.8V0.28H0.6Z M3.4,-0.28H4.8V0.28H3.4Z M1.75,-0.85H3.45V0.85H1.75Z",
                 "M-1,-0.28H0.2V0.28H-1Z M0.6,-0.28H1.8V0.28H0.6Z M3.4,-0.28H4.8V0.28H3.4Z M1.65,0A0.95,0.95 0 1,1 3.55,0A0.95,0.95 0 1,1 1.65,0Z",
                 "M-1,-0.28H0.2V0.28H-1Z M0.6,-0.28H1.8V0.28H0.6Z M3.4,-0.28H4.8V0.28H3.4Z M2.6,-1.05L3.65,0.8H1.55Z",
                 "M-1,-0.28H0.2V0.28H-1Z M0.6,-0.28H1.8V0.28H0.6Z M3.4,-0.28H4.8V0.28H3.4Z M2.6,1.05L1.55,-0.8H3.65Z",
                 "M-1,-0.28H0.2V0.28H-1Z M0.6,-0.28H1.8V0.28H0.6Z M3.4,-0.28H4.8V0.28H3.4Z M2.6,-1.15L3.6,0L2.6,1.15L1.6,0Z",
                 "M-1,-0.28H0.2V0.28H-1Z M0.6,-0.28H1.8V0.28H0.6Z M3.4,-0.28H4.8V0.28H3.4Z M1.55,0L3.5,-1.05V1.05Z"]},
               "legend": {"orient": "none", "legendX": 229, "legendY": 123, "direction": "horizontal", "columns": 2, "title": null, "labelExpr": "labH[datum.value]", "labelFont": "Liberation Sans", "labelFontSize": 20, "symbolSize": 144, "symbolOpacity": 1, "labelOffset": 27, "columnPadding": 8, "rowPadding": 16, "padding": 0}}}}
  ]
 },
 {
  "bounds": "flush",
  "spacing": 4,
  "resolve": {"scale": {"color": "independent", "shape": "independent", "fill": "independent"}},
  "vconcat": [
   {
    "width": 506, "height": 166,
    "title": {"text": "reagent ions - humid sample gas", "font": "DejaVu Sans", "fontSize": 22, "fontWeight": "bold", "offset": 7},
    "resolve": {"axis": {"x": "independent", "y": "independent"}, "scale": {"shape": "independent", "fill": "independent"}},
    "layer": [
     {"data": {"name": "hp"}, "mark": {"type": "line", "strokeDash": [8, 5], "strokeWidth": 3.2, "interpolate": "monotone", "clip": true},
      "encoding": {
       "x": {"field": "EN", "type": "quantitative", "scale": {"domain": [65, 205], "nice": false, "zero": false}, "axis": {"orient": "top", "values": [65, 80, 100, 120, 140, 160, 180, 200], "labels": false, "title": null, "tickSize": 6}},
       "y": {"field": "v", "type": "quantitative", "scale": {"domain": [60, 100], "nice": false, "zero": false},
             "axis": {"orient": "left", "values": [70, 80, 90, 100], "title": "ion intensity [%]", "titleY": 144, "labelFont": "Liberation Sans", "labelFontWeight": "bold", "labelFontSize": 20, "titleFont": "DejaVu Sans", "titleFontSize": 22, "titleFontWeight": "bold", "tickSize": 6, "labelPadding": 8, "titlePadding": 8}},
       "color": {"field": "ion", "type": "nominal", "scale": {"domain": ["h3o", "no", "o2", "hyd", "no2", "hyd2"], "range": ["#000000", "#ff0000", "#0000ff", "#00ee00", "#ff00ff", "#00ffff"]}, "legend": null}}},
     {"data": {"name": "hp"}, "mark": {"type": "point", "filled": true, "size": 120, "opacity": 1, "clip": true},
      "encoding": {
       "x": {"field": "EN", "type": "quantitative", "axis": {"orient": "top", "values": [72.5, 90, 110, 130, 150, 170, 190], "labels": false, "domain": false, "title": null, "tickSize": 4, "tickWidth": 1.5}},
       "y": {"field": "v", "type": "quantitative", "axis": {"orient": "left", "values": [65, 75, 85, 95], "labels": false, "domain": false, "title": null, "tickSize": 4, "tickWidth": 1.5}},
       "color": {"field": "ion", "type": "nominal", "scale": {"domain": ["h3o", "no", "o2", "hyd", "no2", "hyd2"], "range": ["#000000", "#ff0000", "#0000ff", "#00ee00", "#ff00ff", "#00ffff"]}, "legend": null},
       "shape": {"field": "ion", "type": "nominal", "scale": {"domain": ["h3o", "no", "o2", "hyd", "no2", "hyd2"], "range": ["square", "circle", "triangle-up", "triangle-down", "diamond", "triangle-left"]}, "legend": null}}},
     {"data": {"name": "hp"}, "mark": {"type": "point", "filled": true, "opacity": 0, "size": 144},
      "encoding": {
       "x": {"field": "EN", "type": "quantitative", "axis": null},
       "y": {"field": "v", "type": "quantitative", "axis": {"orient": "right", "values": [70, 80, 90, 100], "labels": false, "title": null, "tickSize": 6}},
       "fill": {"field": "ion", "type": "nominal", "scale": {"domain": ["h3o", "no", "o2", "hyd", "no2", "hyd2"], "range": ["#000000", "#ff0000", "#0000ff", "#00ee00", "#ff00ff", "#00ffff"]},
                "legend": {"orient": "none", "legendX": 227, "legendY": 130, "direction": "horizontal", "columns": 2, "title": null, "labelExpr": "labH[datum.value]", "labelFont": "Liberation Sans", "labelFontSize": 20, "symbolSize": 144, "symbolOpacity": 1, "labelOffset": 27, "columnPadding": 8, "rowPadding": 15, "padding": 0}},
       "shape": {"field": "ion", "type": "nominal",
                 "scale": {"domain": ["h3o", "no", "o2", "hyd", "no2", "hyd2"], "range": [
                   "M-1,-0.28H0.2V0.28H-1Z M0.6,-0.28H1.8V0.28H0.6Z M3.4,-0.28H4.8V0.28H3.4Z M1.75,-0.85H3.45V0.85H1.75Z",
                   "M-1,-0.28H0.2V0.28H-1Z M0.6,-0.28H1.8V0.28H0.6Z M3.4,-0.28H4.8V0.28H3.4Z M1.65,0A0.95,0.95 0 1,1 3.55,0A0.95,0.95 0 1,1 1.65,0Z",
                   "M-1,-0.28H0.2V0.28H-1Z M0.6,-0.28H1.8V0.28H0.6Z M3.4,-0.28H4.8V0.28H3.4Z M2.6,-1.05L3.65,0.8H1.55Z",
                   "M-1,-0.28H0.2V0.28H-1Z M0.6,-0.28H1.8V0.28H0.6Z M3.4,-0.28H4.8V0.28H3.4Z M2.6,1.05L1.55,-0.8H3.65Z",
                   "M-1,-0.28H0.2V0.28H-1Z M0.6,-0.28H1.8V0.28H0.6Z M3.4,-0.28H4.8V0.28H3.4Z M2.6,-1.15L3.6,0L2.6,1.15L1.6,0Z",
                   "M-1,-0.28H0.2V0.28H-1Z M0.6,-0.28H1.8V0.28H0.6Z M3.4,-0.28H4.8V0.28H3.4Z M1.55,0L3.5,-1.05V1.05Z"]},
                 "legend": {"orient": "none", "legendX": 227, "legendY": 130, "direction": "horizontal", "columns": 2, "title": null, "labelExpr": "labH[datum.value]", "labelFont": "Liberation Sans", "labelFontSize": 20, "symbolSize": 144, "symbolOpacity": 1, "labelOffset": 27, "columnPadding": 8, "rowPadding": 15, "padding": 0}}}},
     {"data": {"name": "hp"}, "mark": {"type": "point", "opacity": 0},
      "encoding": {
       "x": {"field": "EN", "type": "quantitative", "axis": null},
       "y": {"field": "v", "type": "quantitative", "axis": {"orient": "right", "values": [65, 75, 85, 95], "labels": false, "domain": false, "title": null, "tickSize": 4, "tickWidth": 1.5}}}}
    ]
   },
   {
    "width": 506, "height": 121,
    "resolve": {"axis": {"x": "independent", "y": "independent"}},
    "layer": [
     {"data": {"name": "hp"}, "mark": {"type": "line", "strokeDash": [8, 5], "strokeWidth": 3.2, "interpolate": "monotone", "clip": true},
      "encoding": {
       "x": {"field": "EN", "type": "quantitative", "scale": {"domain": [65, 205], "nice": false, "zero": false},
             "axis": {"orient": "bottom", "values": [65, 80, 100, 120, 140, 160, 180, 200], "title": "E/N [Td]", "labelFont": "Liberation Sans", "labelFontWeight": "bold", "labelFontSize": 20, "titleFont": "DejaVu Sans", "titleFontSize": 22, "titleFontWeight": "bold", "tickSize": 6, "labelPadding": 6, "titlePadding": 6}},
       "y": {"field": "v", "type": "quantitative", "scale": {"domain": [0, 29], "nice": false, "zero": false},
             "axis": {"orient": "left", "values": [0, 10, 20], "title": null, "labelFont": "Liberation Sans", "labelFontWeight": "bold", "labelFontSize": 20, "tickSize": 6, "labelPadding": 8}},
       "color": {"field": "ion", "type": "nominal", "scale": {"domain": ["h3o", "no", "o2", "hyd", "no2", "hyd2"], "range": ["#000000", "#ff0000", "#0000ff", "#00ee00", "#ff00ff", "#00ffff"]}, "legend": null}}},
     {"data": {"name": "hp"}, "mark": {"type": "point", "filled": true, "size": 120, "opacity": 1, "clip": true},
      "encoding": {
       "x": {"field": "EN", "type": "quantitative", "axis": {"orient": "bottom", "values": [72.5, 90, 110, 130, 150, 170, 190], "labels": false, "domain": false, "title": null, "tickSize": 4, "tickWidth": 1.5}},
       "y": {"field": "v", "type": "quantitative", "axis": {"orient": "left", "values": [5, 15, 25], "labels": false, "domain": false, "title": null, "tickSize": 4, "tickWidth": 1.5}},
       "color": {"field": "ion", "type": "nominal", "scale": {"domain": ["h3o", "no", "o2", "hyd", "no2", "hyd2"], "range": ["#000000", "#ff0000", "#0000ff", "#00ee00", "#ff00ff", "#00ffff"]}, "legend": null},
       "shape": {"field": "ion", "type": "nominal", "scale": {"domain": ["h3o", "no", "o2", "hyd", "no2", "hyd2"], "range": ["square", "circle", "triangle-up", "triangle-down", "diamond", "triangle-left"]}, "legend": null}}},
     {"data": {"name": "hp"}, "mark": {"type": "point", "opacity": 0},
      "encoding": {
       "x": {"field": "EN", "type": "quantitative", "axis": null},
       "y": {"field": "v", "type": "quantitative", "axis": {"orient": "right", "values": [0, 10, 20], "labels": false, "title": null, "tickSize": 6}}}},
     {"data": {"name": "hp"}, "mark": {"type": "point", "opacity": 0},
      "encoding": {
       "x": {"field": "EN", "type": "quantitative", "axis": null},
       "y": {"field": "v", "type": "quantitative", "axis": {"orient": "right", "values": [5, 15, 25], "labels": false, "domain": false, "title": null, "tickSize": 4, "tickWidth": 1.5}}}}
    ]
   }
  ]
 }
]
}
